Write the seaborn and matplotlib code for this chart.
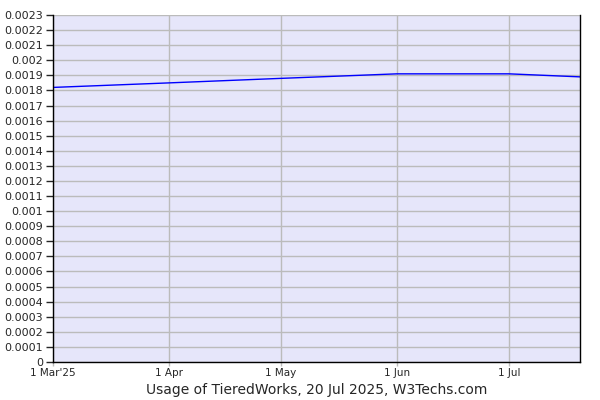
import pandas as pd
import matplotlib
matplotlib.use("Agg")
import matplotlib.pyplot as plt
import seaborn as sns

dates = ["2025-03-01", "2025-04-01", "2025-05-01", "2025-06-01", "2025-07-01", "2025-07-20"]
usage = [0.00182, 0.00185, 0.00188, 0.00191, 0.00191, 0.00189]
tick_dates = ["2025-03-01", "2025-04-01", "2025-05-01", "2025-06-01", "2025-07-01"]
tick_labels = ["1 Mar'25", "1 Apr", "1 May", "1 Jun", "1 Jul"]

df = pd.DataFrame({"date": pd.to_datetime(dates), "usage": usage})

sns.set_style("ticks")
plt.rcParams['font.family'] = ['DejaVu Sans']

fig = plt.figure(figsize=(6, 4), dpi=100)
ax = fig.add_axes([53/600, 38/400, 527/600, 347/400])
ax.set_facecolor("#e6e6fa")

sns.lineplot(data=df, x="date", y="usage", color="#0000ff", linewidth=1, ax=ax)

ax.set_xlim(pd.Timestamp("2025-03-01"), pd.Timestamp("2025-07-20"))
ax.set_ylim(0, 0.0023)
yt = [i / 10000 for i in range(24)]
ax.set_yticks(yt)
ax.set_yticklabels(["0" if i == 0 else ("%.4f" % (i / 10000)).rstrip("0") for i in range(24)], fontsize=8)
ax.set_xticks(pd.to_datetime(tick_dates))
ax.set_xticklabels(tick_labels, fontsize=7.5)
ax.grid(True, color="#bbbbbb", linewidth=1)
ax.set_axisbelow(True)

for s in ["left", "bottom", "right"]:
    ax.spines[s].set_color("black")
    ax.spines[s].set_linewidth(1)
ax.spines["top"].set_visible(False)
ax.tick_params(axis="y", length=5, width=1, pad=2)
ax.tick_params(axis="x", length=3, width=1, color="#bbbbbb", pad=1)

ax.set_xlabel("Usage of TieredWorks, 20 Jul 2025, W3Techs.com", fontsize=10, labelpad=4)
ax.set_ylabel("")

fig.savefig("out.png", dpi=100)
